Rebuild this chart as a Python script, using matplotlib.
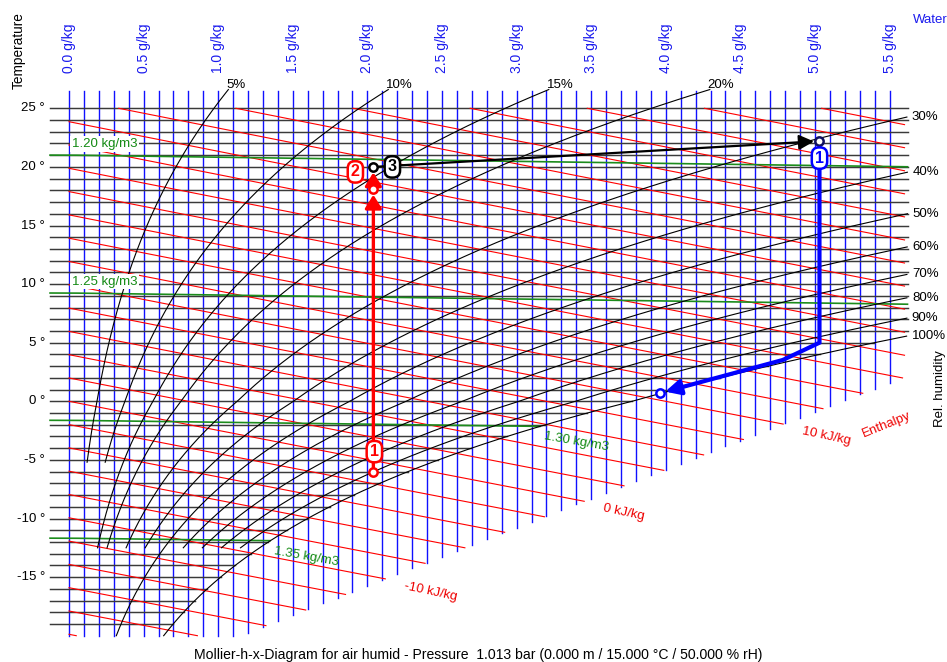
import matplotlib
matplotlib.use("Agg")
import matplotlib.pyplot as plt
import numpy as np

plt.rcParams["font.family"] = ["Liberation Sans", "DejaVu Sans"]

PRESSURE = 101325.0  # Pa

# chart grid
t_lines = np.arange(-19, 26)                      # isotherms, degC
t_ticks = [-15, -10, -5, 0, 5, 10, 15, 20, 25]
x_lines = np.round(np.arange(0.0, 5.51, 0.1), 1)  # water content, g/kg
x_ticks = np.round(np.arange(0.0, 5.51, 0.5), 1)
h_lines = np.arange(-20, 39, 2)                   # enthalpy, kJ/kg
h_labels = [-10, 0, 10]
rh_levels = [5, 10, 15, 20, 30, 40, 50, 60, 70, 80, 90, 100]
rh_t_min = [-5.2, -5.2, -12.5, -12.5, -12.5, -12.5, -20.0, -12.5, -12.5, -12.5, -12.5, -20.0]
rho_levels = [1.20, 1.25, 1.30, 1.35]

# process states: x in g/kg, t in degC
heat_x = [2.04, 2.04, 2.04]
heat_t = [-6.0, 18.1, 20.0]
mix_x = [2.04, 5.03]
mix_t = [20.0, 22.2]
cool_x = [5.03, 5.03, 4.785, 3.96]
cool_t = [22.2, 5.0, 3.53, 0.7]

X_LEFT, X_RIGHT = -0.127, 5.62
T_BOTTOM, T_TOP = -20.0, 26.5


def p_sat(t):
    t = np.asarray(t, dtype=float)
    water = 611.2 * np.exp(17.62 * t / (243.12 + t))
    ice = 611.2 * np.exp(22.46 * t / (272.62 + t))
    return np.where(t >= 0, water, ice)


def x_at(t, phi):
    pw = phi / 100.0 * p_sat(t)
    return 622.0 * pw / (PRESSURE - pw)


def t_from_h(h, x):
    return (h - 2.501 * x) / (1.006 + 0.00186 * x)


def x_from_h(h, t):
    return (h - 1.006 * t) / (2.501 + 0.00186 * t)


def h_bottom(x):
    # lower edge of the chart runs straight in h-x space
    return -25.9 + 7.5 * x


fig = plt.figure(figsize=(9.47, 6.62), dpi=100)
ax = fig.add_axes([0, 0, 1, 1])
ax.set_xlim(-0.46247, 5.8847)
ax.set_ylim(-22.244, 34.241)
ax.axis("off")

# water content lines
for x in x_lines:
    t_low = max(T_BOTTOM, t_from_h(h_bottom(x), x))
    ax.plot([x, x], [t_low, T_TOP], color="#1010ff", lw=1.0, zorder=1)

# isotherms, cut at saturation
for t in t_lines:
    x_end = min(X_RIGHT, float(x_at(t, 100)))
    ax.plot([X_LEFT, x_end], [t, t], color="#3a3a3a", lw=1.05, zorder=2)

# enthalpy lines
for h in h_lines:
    x0 = max(0.0, x_from_h(h, 25.0))
    x1 = min(5.6, (h + 25.9) / 7.5, x_from_h(h, T_BOTTOM))
    if x1 <= x0:
        continue
    xs = np.linspace(x0, x1, 20)
    ax.plot(xs, t_from_h(h, xs), color="#ff0000", lw=0.8, zorder=3)
    if h in h_labels:
        ax.annotate(f"{h} kJ/kg", (x1, t_from_h(h, x1)), xytext=(19, -7),
                    textcoords="offset pixels", color="#ee0000", fontsize=9.5,
                    rotation=-12, rotation_mode="anchor", ha="left", va="center")
ax.text(5.48, -2.0, "Enthalpy", color="#ee0000", fontsize=9.5, rotation=22,
        ha="center", va="center")

# density lines
for rho in rho_levels:
    xs = np.linspace(X_LEFT, X_RIGHT, 2000)
    xp = np.clip(xs, 0, None) / 1000.0
    ts = PRESSURE / (287.05 * rho) * (1 + xp) / (1 + 1.608 * xp) - 273.15
    keep = xs <= x_at(ts, 100)
    xs, ts = xs[keep], ts[keep]
    ax.plot(xs, ts, color="#1c8c1c", lw=1.2, zorder=4)
    label = f"{rho:.2f} kg/m3"
    if xs[-1] >= X_RIGHT - 1e-6:
        ax.text(0.02, ts[0] + 0.95, label, color="#138a13", fontsize=9.5,
                ha="left", va="center", zorder=8,
                bbox=dict(boxstyle="square,pad=0.12", fc="white", ec="none"))
    else:
        ax.annotate(label, (xs[-1], ts[-1]), xytext=(4, -10),
                    textcoords="offset pixels", color="#138a13", fontsize=9.5,
                    rotation=-10, rotation_mode="anchor", ha="left", va="center")

# relative humidity curves
for phi, t_min in zip(rh_levels, rh_t_min):
    ts = np.linspace(t_min, 26.6, 3000)
    xs = x_at(ts, phi)
    keep = xs <= X_RIGHT
    xs, ts = xs[keep], ts[keep]
    ax.plot(xs, ts, color="black", lw=0.8, zorder=4)
    if phi <= 20:
        ax.annotate(f"{phi}%", (xs[-1], ts[-1]), xytext=(-2, -1),
                    textcoords="offset pixels", fontsize=9.5,
                    ha="left", va="bottom")
    else:
        ax.annotate(f"{phi}%", (xs[-1], ts[-1]), xytext=(5, 0),
                    textcoords="offset pixels", fontsize=9.5,
                    ha="left", va="center")

# axis labels
for t in t_ticks:
    ax.text(-0.161, t, f"{t} °", fontsize=9.5, ha="right", va="center")
for x in x_ticks:
    ax.text(x, 28.0, f"{x:.1f} g/kg", fontsize=10, color="#1a1aee",
            rotation=90, ha="center", va="bottom")
ax.text(-0.34, 29.9, "Temperature", fontsize=9.8, rotation=90, ha="center", va="center")
ax.text(5.657, 32.53, "Water", fontsize=9.5, color="#1a1aee", ha="left", va="center")
ax.text(5.837, 1.05, "Rel. humidity", fontsize=9.5, rotation=90, ha="center", va="center")
fig.text(478 / 947, 1 - 655 / 662,
         "Mollier-h-x-Diagram for air humid - Pressure  1.013 bar "
         "(0.000 m / 15.000 °C / 50.000 % rH)",
         fontsize=10.1, ha="center", va="center")


def arrow(x0, t0, x1, t1, color, lw, hl, hw, shrink=4):
    ax.annotate("", xy=(x1, t1), xytext=(x0, t0), zorder=6,
                arrowprops=dict(arrowstyle=f"-|>,head_length={hl},head_width={hw}",
                                color=color, lw=lw, shrinkA=0, shrinkB=shrink,
                                mutation_scale=10))


def marker(x, t, color):
    ax.plot([x], [t], "o", ms=6, mfc="white", mec=color, mew=1.8, zorder=7)


def tag(x, t, text, color, dx, dy):
    ax.annotate(text, (x, t), xytext=(dx, dy), textcoords="offset pixels",
                fontsize=11.5, fontweight="bold", color=color, ha="center",
                va="center", zorder=9,
                bbox=dict(boxstyle="round,pad=0.2,rounding_size=0.45",
                          fc="white", ec=color, lw=1.8))


# heating (red)
for i in range(len(heat_x) - 1):
    arrow(heat_x[i], heat_t[i], heat_x[i + 1], heat_t[i + 1], "#ff0000", 2.4, 0.8, 0.5)
marker(heat_x[0], heat_t[0], "#ff0000")
marker(heat_x[1], heat_t[1], "#ff0000")

# mixing (black)
arrow(mix_x[0], mix_t[0], mix_x[1], mix_t[1], "black", 1.6, 0.9, 0.45)

# cooling / dehumidifying (blue)
ax.plot(cool_x[:-1], cool_t[:-1], color="#0000ff", lw=3.0, zorder=6,
        solid_capstyle="butt", solid_joinstyle="miter")
arrow(cool_x[-2], cool_t[-2], cool_x[-1], cool_t[-1], "#0000ff", 3.0, 0.9, 0.45)
marker(cool_x[-1], cool_t[-1], "#0000ff")
marker(cool_x[0], cool_t[0], "#101060")
marker(heat_x[-1], heat_t[-1], "black")

tag(heat_x[0], heat_t[0], "1", "#ff0000", 1, 20)
tag(heat_x[-1], heat_t[-1], "2", "#ff0000", -18, -5)
tag(mix_x[0], mix_t[0], "3", "black", 19, 0)
tag(cool_x[0], cool_t[0], "1", "#0000ff", 0, -17)

fig.savefig("out.png", dpi=100)
